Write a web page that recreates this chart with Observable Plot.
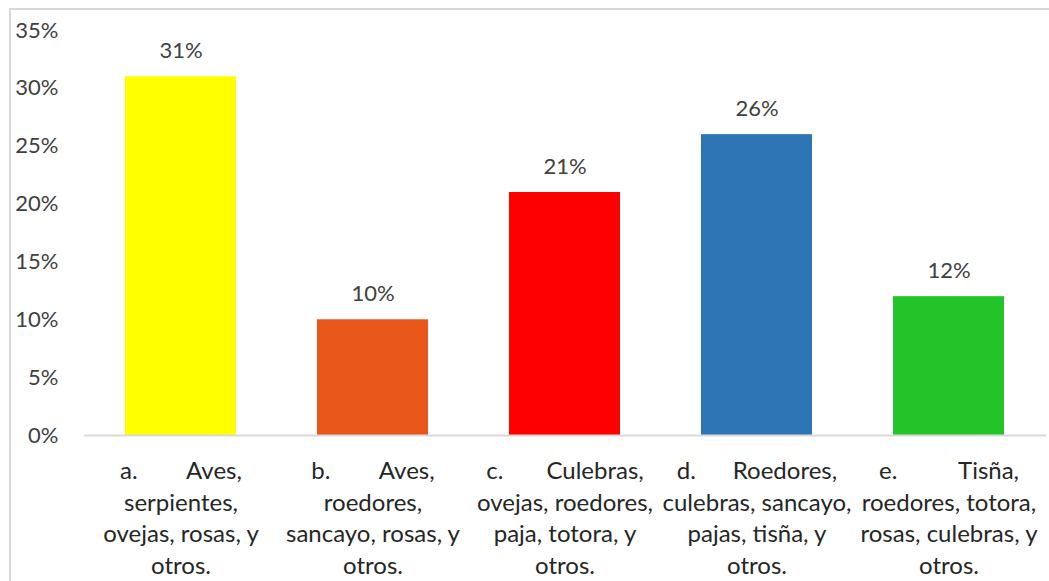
<!DOCTYPE html>
<html>
<head>
<meta charset="utf-8">
<script src="https://cdn.jsdelivr.net/npm/d3@7"></script>
<script src="https://cdn.jsdelivr.net/npm/@observablehq/plot@0.6"></script>
<style>
  html, body { margin: 0; padding: 0; background: #fff; }
  #wrap { position: relative; width: 1049px; height: 581px; overflow: hidden; }
  #frame { position: absolute; left: 9px; top: 8px; width: 1040px; height: 600px; border: 2px solid #d9d9d9; border-right: none; box-sizing: border-box; }
  #chart { position: absolute; left: 0; top: 0; }
</style>
</head>
<body>
<div id="wrap"><div id="frame"></div><div id="chart"></div></div>
<script>
const categories = ["a", "b", "c", "d", "e"];
const values = [0.31, 0.10, 0.21, 0.26, 0.12];
const labels = [
  "a.\u00a0\u00a0\u00a0\u00a0\u00a0\u00a0\u00a0\u00a0Aves,\nserpientes,\novejas, rosas, y\notros.",
  "b.\u00a0\u00a0\u00a0\u00a0\u00a0\u00a0\u00a0\u00a0Aves,\nroedores,\nsancayo, rosas, y\notros.",
  "c.\u00a0\u00a0\u00a0\u00a0\u00a0\u00a0\u00a0Culebras,\novejas, roedores,\npaja, totora, y\notros.",
  "d.\u00a0\u00a0\u00a0\u00a0\u00a0\u00a0Roedores,\nculebras, sancayo,\npajas, tisña, y\notros.",
  "e.\u00a0\u00a0\u00a0\u00a0\u00a0\u00a0\u00a0\u00a0\u00a0\u00a0Tisña,\nroedores, totora,\nrosas, culebras, y\notros."
];
const colors = ["#FFFF00", "#E8561A", "#FF0000", "#2E75B6", "#23C42A"];
const yTicks = [0, 0.05, 0.10, 0.15, 0.20, 0.25, 0.30, 0.35];

const data = categories.map((c, i) => ({cat: c, value: values[i], label: labels[i], color: colors[i]}));
const font = "Lato, 'Open Sans', sans-serif";

const chart = Plot.plot({
  width: 1049,
  height: 581,
  marginTop: 30,
  marginBottom: 146,
  marginLeft: 84,
  marginRight: 3,
  style: {fontFamily: font, fontSize: "22px", color: "#404040", background: "transparent"},
  x: {domain: categories, paddingInner: 0.42, paddingOuter: 0.21, axis: null},
  y: {domain: [0, 0.35], axis: null},
  marks: [
    Plot.barY(data, {x: "cat", y: "value", fill: "color", inset: 0}),
    Plot.ruleY([0], {stroke: "#d9d9d9", strokeWidth: 2}),
    Plot.axisY({
      ticks: yTicks,
      tickFormat: d => Math.round(d * 100) + "%",
      tickSize: 0,
      tickPadding: 26,
      fontSize: 22,
      fill: "#404040",
      label: null
    }),
    Plot.text(data, {
      x: "cat", y: "value",
      text: d => Math.round(d.value * 100) + "%",
      dy: -26, fontSize: 22, fill: "#404040"
    }),
    Plot.text(data, {
      x: "cat", y: 0,
      text: "label",
      lineAnchor: "top",
      dy: 21,
      lineHeight: 1.32,
      fontSize: 24,
      fill: "#262626"
    })
  ]
});
document.getElementById("chart").appendChild(chart);
</script>
</body>
</html>
